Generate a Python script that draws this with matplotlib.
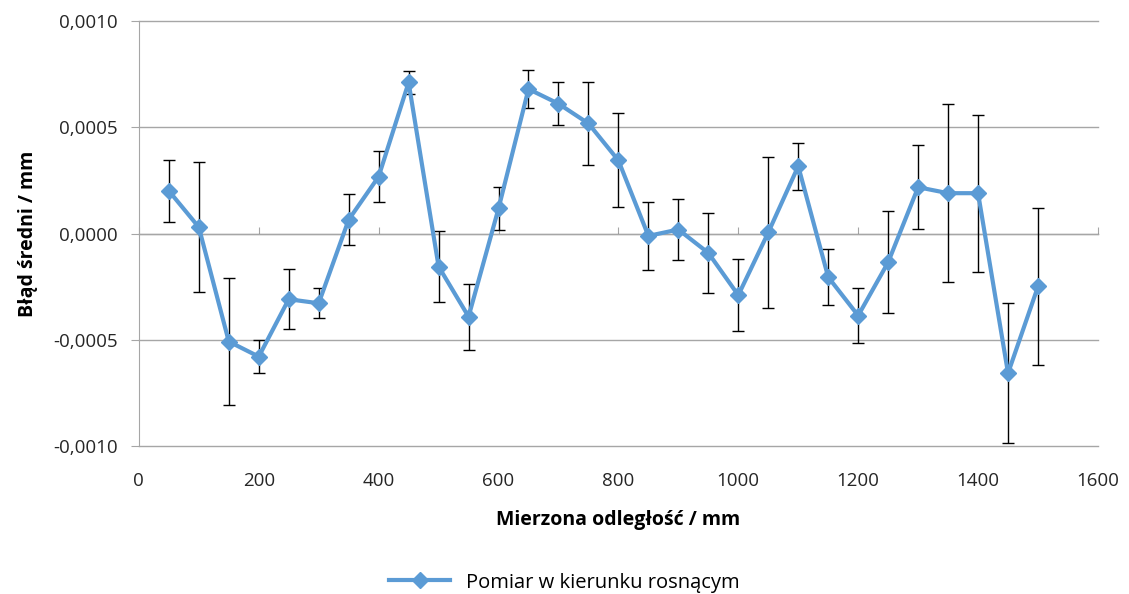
import matplotlib.pyplot as plt
from matplotlib.ticker import FuncFormatter

plt.rcParams['font.family'] = ['Open Sans', 'DejaVu Sans']

distance = [50, 100, 150, 200, 250, 300, 350, 400, 450, 500, 550, 600,
            650, 700, 750, 800, 850, 900, 950, 1000, 1050, 1100, 1150,
            1200, 1250, 1300, 1350, 1400, 1450, 1500]
mean_error = [0.000201, 0.000030, -0.000508, -0.000579, -0.000309, -0.000328,
              0.000065, 0.000268, 0.000711, -0.000155, -0.000391, 0.000118,
              0.000680, 0.000611, 0.000518, 0.000344, -0.000011, 0.000019,
              -0.000091, -0.000290, 0.000005, 0.000317, -0.000205, -0.000386,
              -0.000135, 0.000218, 0.000190, 0.000190, -0.000657, -0.000249]
error_bar = [0.000147, 0.000305, 0.000297, 0.000076, 0.000140, 0.000070,
             0.000119, 0.000120, 0.000052, 0.000167, 0.000156, 0.000103,
             0.000090, 0.000100, 0.000197, 0.000221, 0.000160, 0.000145,
             0.000190, 0.000170, 0.000357, 0.000110, 0.000133, 0.000130,
             0.000240, 0.000197, 0.000420, 0.000370, 0.000330, 0.000370]

fig = plt.figure(figsize=(11.29, 5.94), dpi=100)
ax = fig.add_axes([0.123, 0.249, 0.8495, 0.7156])

ax.errorbar(distance, mean_error, yerr=error_bar, fmt='none', ecolor='black',
            elinewidth=1, capsize=4, capthick=1, zorder=3)
ax.plot(distance, mean_error, color='#5B9BD5', linewidth=3, marker='D',
        markersize=8, label='Pomiar w kierunku rosnącym', zorder=4)

ax.set_xlim(0, 1600)
ax.set_ylim(-0.001, 0.001)
ax.set_yticks([-0.001, -0.0005, 0, 0.0005, 0.001])
ax.yaxis.set_major_formatter(FuncFormatter(lambda v, p: f"{v:.4f}".replace('.', ',').replace('-0,0000', '0,0000')))
ax.set_xticks(range(0, 1601, 200))

ax.grid(axis='y', color='#a6a6a6', linewidth=1)
for gl in ax.get_ygridlines():
    gl.set_clip_on(False)
ax.set_axisbelow(True)
for s in ['top', 'right', 'bottom']:
    ax.spines[s].set_visible(False)
ax.spines['left'].set_color('#a6a6a6')
ax.tick_params(axis='y', length=6, color='#a6a6a6', labelsize=13.5, pad=9,
               labelcolor='#262626')
ax.tick_params(axis='x', length=0, labelsize=13.5, pad=19, labelcolor='#262626')

# axis line crossing at zero with small outward ticks
zero_axis = ax.secondary_xaxis(0.5)
zero_axis.set_xticks(range(0, 1601, 200))
zero_axis.set_xticklabels([])
zero_axis.tick_params(length=5, color='#a6a6a6', direction='out')
zero_axis.spines['bottom'].set_color('#a6a6a6')

ax.set_xlabel('Mierzona odległość / mm', fontsize=14, fontweight='bold', labelpad=14)
ax.set_ylabel('Błąd średni / mm', fontsize=14, fontweight='bold', labelpad=11)

fig.legend(loc='lower center', bbox_to_anchor=(0.5, -0.028), frameon=False,
           fontsize=14.5, handlelength=3)

fig.savefig('out.png', dpi=100)
